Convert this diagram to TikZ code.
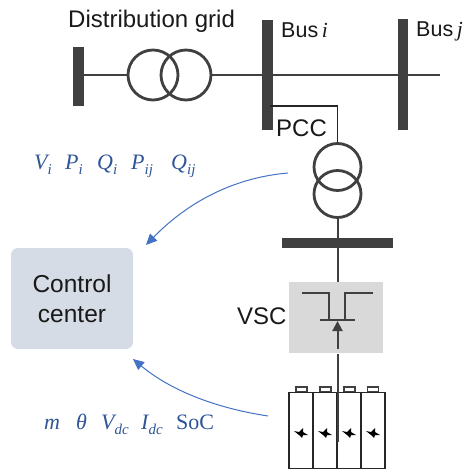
\documentclass[tikz,border=0pt]{standalone}
\usepackage{fontspec}
\setmainfont{Liberation Sans}
\newfontfamily\mfont{Liberation Serif}
\usetikzlibrary{arrows.meta}
\definecolor{ink}{HTML}{404040}
\definecolor{mathblue}{HTML}{2F5597}
\definecolor{arrowblue}{HTML}{4472C4}
\definecolor{ctrlfill}{HTML}{D6DCE5}
\definecolor{vscfill}{HTML}{D9D9D9}
\tikzset{
  busbar/.style={fill=ink,draw=none,inner sep=0pt,minimum width=#1},
  wire/.style={draw=ink,line width=2pt},
  thin wire/.style={draw=black!85,line width=1.3pt},
  coil/.style={circle,draw=ink,line width=2.8pt,inner sep=0pt,minimum size=#1},
  lbl/.style={inner sep=0pt,font=\fontsize{24}{24}\selectfont,text=black!90},
  buslbl/.style={inner sep=0pt,font=\fontsize{21.5}{24}\selectfont,text=black!90},
  mlbl/.style={inner sep=0pt,anchor=base west,text=mathblue,font=\mfont\fontsize{22}{22}\selectfont},
  feed/.style={draw=arrowblue,line width=1pt,-{Triangle[length=11pt,width=10pt]}},
  cell/.style={draw=black!85,line width=1.6pt,minimum width=24pt,minimum height=76pt,inner sep=0pt},
  battcap/.style={draw=black!75,line width=1.3pt,minimum width=11pt,minimum height=5pt,inner sep=0pt},
  bolt/.style={fill=black,draw=none}
}
\newcommand{\boltat}[1]{\fill[bolt,shift={(#1)}] (-7,-2)--(-2,-1)--(2,-5)--(2,-1)--(7,2)--(2,2)--(1,5)--(-2,2)--cycle;}
\newcommand{\msub}[2]{{\itshape #1}\raisebox{-5pt}{\fontsize{15}{15}\selectfont\itshape #2}}
\begin{document}
\begin{tikzpicture}[x=1pt,y=-1pt]
\useasboundingbox (0,0) rectangle (470,470);
% buses
\node[busbar=11pt,minimum height=59pt] (b0) at (78.5,76.5) {};
\node[busbar=11pt,minimum height=110pt] (bi) at (267.5,75) {};
\node[busbar=10pt,minimum height=111pt] (bj) at (402.5,74.5) {};
\node[busbar=111pt,minimum height=10pt] (bv) at (337.5,243) {};
% grid transformer
\coordinate (gridend) at (440,75);
\node[coil=50pt] (t1) at (153,75) {};
\node[coil=50pt] (t2) at (186,75) {};
\draw[wire] (b0.east |- t1.west) -- (t1.west);
\draw[wire] (t2.east) -- (bi.west |- t2.east);
\draw[wire] (bi.east |- gridend) -- (gridend);
% VSC box
\node[fill=vscfill,minimum width=94pt,minimum height=71pt,inner sep=0pt] (vsc) at (336,317.5) {};
% PCC transformer
\node[coil=47pt] (t3) at (337.5,167) {};
\node[coil=47pt] (t4) at (337.5,194) {};
\coordinate (pccstart) at (270,106);
\coordinate (pcccorner) at (337.5,106);
\draw[thin wire] (pccstart) -- (pcccorner) -- (t3.north);
\draw[wire] (t4.south) -- (bv.north);
\draw[wire] (bv.south) -- (vsc.north -| bv.south);
% switch
\coordinate (sa) at (302,293);
\coordinate (sb) at (329,293);
\coordinate (sc) at (329,320);
\coordinate (sd) at (373,293);
\coordinate (se) at (345,293);
\coordinate (sf) at (345,320);
\coordinate (sg) at (320,320);
\coordinate (sh) at (355,320);
\coordinate (si) at (337.5,349);
\coordinate (sj) at (337.5,321);
\draw[wire] (sa) -- (sb) -- (sc);
\draw[wire] (sd) -- (se) -- (sf);
\draw[wire] (sg) -- (sh);
\draw[wire,-{Triangle[length=10pt,width=10pt]}] (si) -- (sj);
% battery
\node[battcap] (c1) at (301.5,389.5) {};
\node[battcap] (c2) at (325.5,389.5) {};
\node[battcap] (c3) at (349.5,389.5) {};
\node[battcap] (c4) at (373,389.5) {};
\node[cell] (k1) at (301,430.5) {};
\node[cell] (k2) at (325,430.5) {};
\node[cell] (k3) at (349,430.5) {};
\node[cell] (k4) at (373,430.5) {};
\coordinate (batin) at (337.5,442);
\coordinate (vscout) at (337.5,353.5);
\draw[wire] (vscout) -- (batin);
\boltat{301,433}
\boltat{325,433}
\boltat{349,433}
\boltat{373,433}
% control center
\node[fill=ctrlfill,rounded corners=7pt,minimum width=122pt,minimum height=101pt,inner sep=0pt,align=center,font=\fontsize{24.5}{30}\selectfont,text=black!90] (cc) at (72,298.5) {Control\\center};
% feedback arrows
\coordinate (f1s) at (288,173);
\coordinate (f1e) at (146,245);
\coordinate (f2s) at (268,416);
\coordinate (f2e) at (133,359);
\draw[feed] (f1s) .. controls (230,178) and (185,205) .. (f1e);
\draw[feed] (f2s) .. controls (215,408) and (170,390) .. (f2e);
% labels
\node[lbl,anchor=base west] (ldg) at (68,28) {Distribution grid};
\node[buslbl,anchor=base west] (lbi) at (281,38) {Bus\,{\mfont\itshape i}};
\node[buslbl,anchor=base west] (lbj) at (416,37) {Bus\,{\mfont\itshape j}};
\node[lbl,anchor=base west] (lpcc) at (276,137) {PCC};
\node[lbl,anchor=base west] (lvsc) at (237,324) {VSC};
\node[mlbl] (m1) at (34,170) {\msub{V}{i}};
\node[mlbl] (m2) at (65,170) {\msub{P}{i}};
\node[mlbl] (m3) at (97,170) {\msub{Q}{i}};
\node[mlbl] (m4) at (131,170) {\msub{P}{ij}};
\node[mlbl] (m5) at (171,170) {\msub{Q}{ij}};
\node[mlbl] (m6) at (44,429) {{\itshape m}};
\node[mlbl] (m7) at (76,429) {{\itshape θ}};
\node[mlbl] (m8) at (101,429) {\msub{V}{dc}};
\node[mlbl] (m9) at (141,429) {\msub{I}{dc}};
\node[mlbl] (m10) at (176,429) {SoC};
\end{tikzpicture}
\end{document}
